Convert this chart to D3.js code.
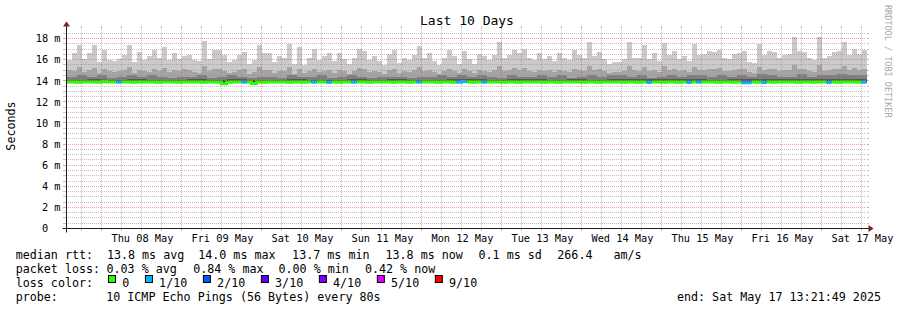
<!DOCTYPE html>
<html>
<head>
<meta charset="utf-8">
<script src="https://cdn.jsdelivr.net/npm/d3@7"></script>
<style>
  body { margin: 0; background: #fff; }
  text { font-family: "DejaVu Sans Mono", monospace; white-space: pre; }
</style>
</head>
<body>
<div id="chart-area"></div>
<script>
// ---- values ----
const endTime = Date.UTC(2025, 4, 17, 13, 21, 49)
const spanDays = 10

const yTickValues = [0, 2, 4, 6, 8, 10, 12, 14, 16, 18]
const yTickLabels = ["0", "2 m", "4 m", "6 m", "8 m", "10 m", "12 m", "14 m", "16 m", "18 m"]
const dayLabels = ["Thu 08 May", "Fri 09 May", "Sat 10 May", "Sun 11 May", "Mon 12 May",
                   "Tue 13 May", "Wed 14 May", "Thu 15 May", "Fri 16 May", "Sat 17 May"]

// smoke: highest ping (ms), 160 samples over the 10 days
const pingTop = [
  16.0,16.6,17.4,16.1,16.6,17.4,15.8,16.9,16.0,15.9, 16.1,16.4,17.4,15.8,16.7,16.0,16.3,16.9,16.2,17.2,
  16.0,16.6,16.1,16.3,16.4,16.0,15.9,17.8,16.1,16.9, 16.9,16.4,15.8,16.0,16.4,16.7,15.6,16.0,17.4,16.6,
  16.6,15.8,16.3,16.2,17.5,15.6,17.2,15.5,16.2,17.0, 16.0,16.3,16.6,15.9,16.6,16.1,15.6,16.2,17.0,16.8,
  16.0,16.3,15.9,15.5,16.5,16.9,15.7,16.2,16.0,16.4, 17.3,16.2,16.6,15.9,15.5,16.2,16.9,16.3,15.6,16.8,
  16.1,15.6,16.5,16.3,16.0,16.4,17.7,16.2,16.4,16.9, 16.6,17.0,16.2,16.0,16.6,16.1,16.3,15.9,16.6,16.2,
  16.0,16.9,16.4,16.2,17.7,16.3,16.7,16.1,15.6,15.8, 15.8,16.1,17.7,16.2,16.2,17.4,16.1,16.6,15.9,17.6,
  16.4,16.8,16.1,16.3,15.9,17.5,16.4,16.5,16.8,16.7, 16.9,16.2,16.1,16.5,16.6,16.8,15.8,15.7,17.5,16.4,
  16.8,16.7,16.2,16.4,16.5,18.1,16.8,16.7,16.2,16.0, 18.1,16.2,16.3,16.7,16.8,17.7,16.4,17.0,16.5,16.9
]
// second highest ping, 160 samples
const ping9 = [
  15.0,14.9,15.3,14.8,15.0,15.2,14.7,15.1,14.9,14.8, 14.9,15.0,15.3,14.7,15.0,14.9,14.8,15.1,14.9,15.2,
  14.8,15.0,14.9,15.1,15.0,14.8,14.7,15.4,14.9,15.1, 15.1,14.9,14.7,14.8,15.0,15.1,14.6,14.8,15.3,15.0,
  15.0,14.7,14.9,14.9,15.3,14.6,15.1,14.7,14.9,15.1, 14.8,14.9,15.0,14.7,15.0,14.9,14.6,14.9,15.2,15.1,
  14.8,14.9,14.8,14.6,15.0,15.1,14.7,14.9,14.8,15.0, 15.3,14.9,15.0,14.8,14.6,14.9,15.1,14.9,14.7,15.1,
  14.9,14.7,15.0,14.9,14.8,15.0,15.4,14.9,15.0,15.2, 15.0,15.2,14.9,14.8,15.0,14.9,15.0,14.8,15.0,14.9,
  14.8,15.1,15.0,14.9,15.4,15.0,15.1,14.9,14.7,14.8, 14.8,14.9,15.4,15.0,14.9,15.3,14.9,15.0,14.8,15.4,
  15.0,15.1,14.9,15.0,14.8,15.3,15.0,15.0,15.1,15.1, 15.2,14.9,14.9,15.0,15.1,15.1,14.8,14.7,15.3,15.0,
  15.1,15.1,14.9,15.0,15.0,15.5,15.1,15.1,14.9,14.8, 15.5,14.9,15.0,15.1,15.1,15.4,15.0,15.2,15.0,15.1
]
// third highest ping, 80 samples
const ping8 = [
  14.4,14.5,14.4,14.5,14.3,14.4,14.5,14.4,14.5,14.4, 14.3,14.4,14.4,14.5,14.3,14.4,14.5,14.4,14.3,14.4,
  14.4,14.3,14.5,14.4,14.4,14.5,14.3,14.4,14.5,14.4, 14.3,14.4,14.4,14.4,14.3,14.4,14.4,14.5,14.4,14.5,
  14.4,14.5,14.4,14.3,14.5,14.4,14.4,14.5,14.4,14.5, 14.3,14.4,14.5,14.4,14.5,14.5,14.4,14.5,14.3,14.4,
  14.5,14.4,14.5,14.5,14.4,14.5,14.4,14.5,14.4,14.6, 14.5,14.4,14.4,14.6,14.4,14.5,14.5,14.6,14.5,14.5
]
// fourth and fifth highest pings, 40 samples
const ping7 = [
  14.10,14.15,14.10,14.15,14.10,14.10,14.15,14.10,14.15,14.10, 14.10,14.15,14.10,14.10,14.15,14.10,14.15,14.10,14.10,14.15,
  14.15,14.10,14.15,14.15,14.10,14.20,14.10,14.15,14.20,14.15, 14.20,14.15,14.10,14.20,14.15,14.20,14.15,14.20,14.15,14.20
]
const ping6 = [
  13.99,14.00,13.98,14.01,13.99,13.98,14.00,13.99,14.02,13.98, 13.99,14.00,13.98,13.99,14.01,13.99,14.00,13.98,13.99,14.01,
  14.00,13.99,14.01,14.00,13.99,14.02,13.99,14.00,14.02,14.00, 14.01,14.00,13.99,14.02,14.00,14.01,14.00,14.02,14.00,14.01
]
// lowest ping, 40 samples
const pingLow = [
  13.76,13.77,13.76,13.75,13.77,13.76,13.76,13.77,13.75,13.76, 13.77,13.76,13.76,13.77,13.76,13.75,13.76,13.77,13.76,13.76,
  13.77,13.76,13.75,13.76,13.77,13.76,13.76,13.75,13.77,13.76, 13.76,13.77,13.76,13.76,13.75,13.77,13.76,13.76,13.77,13.76
]
// median rtt, 160 samples
const medianRtt = [
  13.87,13.87,13.86,13.88,13.87,13.87,13.86,13.95,13.88,13.87, 13.85,13.87,13.87,13.86,13.87,13.88,13.87,13.87,13.86,13.87,
  13.88,13.87,13.86,13.87,13.87,13.88,13.87,13.86,13.87,13.87, 13.86,13.72,13.86,13.87,13.87,13.85,13.87,13.75,13.87,13.86,
  13.87,13.87,13.88,13.87,13.86,13.87,13.87,13.86,13.87,13.85, 13.87,13.87,13.84,13.87,13.86,13.87,13.88,13.86,13.87,13.87,
  13.86,13.87,13.87,13.88,13.87,13.86,13.87,13.87,13.86,13.87, 13.85,13.87,13.88,13.87,13.86,13.87,13.87,13.86,13.85,13.94,
  13.87,13.86,13.87,13.85,13.87,13.87,13.88,13.86,13.87,13.87, 13.86,13.87,13.87,13.88,13.87,13.86,13.87,13.87,13.86,13.87,
  13.87,13.88,13.87,13.86,13.87,13.87,13.86,13.87,13.87,13.88, 13.87,13.86,13.87,13.87,13.86,13.87,13.84,13.87,13.87,13.86,
  13.87,13.87,13.86,13.87,13.84,13.87,13.85,13.87,13.88,13.87, 13.86,13.87,13.87,13.86,13.87,13.82,13.80,13.87,13.86,13.84,
  13.87,13.86,13.87,13.87,13.88,13.87,13.86,13.87,13.87,13.86, 13.87,13.87,13.84,13.87,13.86,13.87,13.87,13.88,13.86,13.85
]
// lost pings out of 10 for each median sample
const lostPings = [
  0,0,0,0,0,0,0,0,0,0, 1,0,0,0,0,0,0,0,0,0, 0,0,0,0,0,0,0,0,0,0, 0,0,0,0,0,1,0,0,0,0,
  0,0,0,0,0,0,0,0,0,1, 0,0,1,0,0,0,0,1,0,0, 0,0,0,0,0,0,0,0,0,0, 1,0,0,0,0,0,0,0,1,1,
  0,0,0,1,0,0,0,0,0,0, 0,0,0,0,0,0,0,0,0,0, 0,0,0,0,0,0,0,0,0,0, 0,0,0,0,0,0,1,0,0,0,
  0,0,0,0,1,0,1,0,0,0, 0,0,0,0,0,1,1,0,0,1, 0,0,0,0,0,0,0,0,0,0, 0,0,1,0,0,0,0,0,0,1
]

const lossLevels = [0, 1, 2, 3, 4, 5, 9]
const lossLabels = ["0", "1/10", "2/10", "3/10", "4/10", "5/10", "9/10"]
const lossColors = ["#26ff00", "#00b8ff", "#0059ff", "#5e00ff", "#7e00ff", "#dd00ff", "#ff0000"]
const smokeGreys = ["#cacaca", "#a4a4a4", "#7e7e7e", "#585858", "#323232"]

const rttLegend = ["median rtt:", "13.8 ms avg", "14.0 ms max", "13.7 ms min", "13.8 ms now", "0.1 ms sd", "266.4", "am/s"]
const lossLegend = ["packet loss:", "0.03 % avg", "0.84 % max", "0.00 % min", "0.42 % now"]
const probeText = "10 ICMP Echo Pings (56 Bytes) every 80s"
const endText = "end: Sat May 17 13:21:49 2025"

// ---- layout ----
const W = 897, H = 310
const PLOT = { LEFT: 66.5, RIGHT: 866.5, TOP: 28.5, BOTTOM: 228.5 }
const CW = 7.02 // legend char width
const startTime = endTime - spanDays * 86400000

const svg = d3.select("#chart-area").append("svg")
    .attr("width", W)
    .attr("height", H)

svg.append("rect").attr("width", W).attr("height", H).attr("fill", "#fff")

const x = d3.scaleUtc()
    .domain([new Date(startTime), new Date(endTime)])
    .range([PLOT.LEFT, PLOT.RIGHT])

const y = d3.scaleLinear()
    .domain([0, 18.95])
    .range([PLOT.BOTTOM, PLOT.TOP])

// spread a sample array evenly over the time span (step series)
function steps(values) {
    const n = values.length, dt = (endTime - startTime) / n
    return d3.range(n + 1).map(k => ({ t: new Date(startTime + k * dt), v: values[Math.min(k, n - 1)] }))
}
function valueAt(values, t) {
    const n = values.length
    const k = Math.floor((t - startTime) / (endTime - startTime) * n)
    return values[Math.max(0, Math.min(n - 1, k))]
}

// smoke layers, widest (lightest) first
const smokeTops = [pingTop, ping9, ping8, ping7, ping6]
const smoke = svg.append("g").attr("shape-rendering", "crispEdges")
smokeTops.forEach((tops, i) => {
    const area = d3.area()
        .curve(d3.curveStepAfter)
        .x(d => x(d.t))
        .y0(d => y(valueAt(pingLow, d.t)))
        .y1(d => y(d.v))
    smoke.append("path")
        .datum(steps(tops))
        .attr("d", area)
        .attr("fill", smokeGreys[i])
})

// median line coloured by loss
const n = medianRtt.length, dt = (endTime - startTime) / n
const medPts = []
medianRtt.forEach((v, i) => {
    medPts.push({ t: new Date(startTime + i * dt), v, loss: lostPings[i] })
    medPts.push({ t: new Date(startTime + (i + 1) * dt), v, loss: lostPings[i] })
})
lossLevels.forEach((lvl, i) => {
    const line = d3.line()
        .defined(d => d.loss === lvl)
        .x(d => x(d.t))
        .y(d => y(d.v))
    svg.append("path")
        .datum(medPts)
        .attr("d", line)
        .attr("fill", "none")
        .attr("stroke", lossColors[i])
        .attr("stroke-width", 3)
        .attr("stroke-linecap", "butt")
})

// grid (drawn over the data, like rrdtool) as pixel-dot patterns
const defs = svg.append("defs")
const gridStyles = {
    minor: { col: "#8f8f8f", op: 0.55 },
    major: { col: "#de4f4f", op: 0.55 }
}
Object.entries(gridStyles).forEach(([name, s]) => {
    const ph = defs.append("pattern").attr("id", `dotH-${name}`)
        .attr("patternUnits", "userSpaceOnUse").attr("width", 2).attr("height", 1)
    ph.append("rect").attr("width", 1).attr("height", 1).attr("fill", s.col).attr("fill-opacity", s.op)
    const pv = defs.append("pattern").attr("id", `dotV-${name}`)
        .attr("patternUnits", "userSpaceOnUse").attr("width", 1).attr("height", 2)
    pv.append("rect").attr("width", 1).attr("height", 1).attr("fill", s.col).attr("fill-opacity", s.op)
})

const grid = svg.append("g").attr("shape-rendering", "crispEdges")
const gTop = Math.floor(PLOT.TOP), gBot = Math.floor(PLOT.BOTTOM)
const gLeft = Math.floor(PLOT.LEFT) + 1, gRight = Math.floor(PLOT.RIGHT)
const sixHours = d3.utcHour.every(6).range(new Date(startTime), new Date(endTime))
sixHours.forEach(t => {
    const kind = t.getUTCHours() === 0 ? "major" : "minor"
    const s = gridStyles[kind]
    const gx = Math.floor(x(t))
    grid.append("rect")
        .attr("x", gx).attr("y", gTop).attr("width", 1).attr("height", gBot - gTop)
        .attr("fill", `url(#dotV-${kind})`)
    grid.append("rect")
        .attr("x", gx).attr("y", gTop - 2).attr("width", 1).attr("height", 2)
        .attr("fill", s.col).attr("fill-opacity", s.op)
    grid.append("rect")
        .attr("x", gx).attr("y", gBot + 1).attr("width", 1).attr("height", 2)
        .attr("fill", s.col).attr("fill-opacity", s.op)
})
d3.range(1, 38).map(k => k / 2).forEach(v => {
    const kind = v % 2 === 0 ? "major" : "minor"
    const s = gridStyles[kind]
    const gy = Math.floor(y(v))
    grid.append("rect")
        .attr("x", gLeft).attr("y", gy).attr("width", gRight - gLeft).attr("height", 1)
        .attr("fill", `url(#dotH-${kind})`)
    grid.append("rect")
        .attr("x", gLeft - 4).attr("y", gy).attr("width", 3).attr("height", 1)
        .attr("fill", s.col).attr("fill-opacity", s.op)
    grid.append("rect")
        .attr("x", gRight + 1).attr("y", gy).attr("width", 2).attr("height", 1)
        .attr("fill", s.col).attr("fill-opacity", s.op)
})

// axes lines + arrows
const axisCol = "#1f1f1f", arrowCol = "#7f1f1f"
svg.append("line")
    .attr("x1", PLOT.LEFT - 4).attr("x2", PLOT.RIGHT + 4)
    .attr("y1", PLOT.BOTTOM).attr("y2", PLOT.BOTTOM)
    .attr("stroke", axisCol)
svg.append("line")
    .attr("x1", PLOT.LEFT).attr("x2", PLOT.LEFT)
    .attr("y1", PLOT.BOTTOM + 4).attr("y2", PLOT.TOP - 4)
    .attr("stroke", axisCol)
svg.append("path")
    .attr("d", `M${PLOT.RIGHT + 2},${PLOT.BOTTOM - 3.5}L${PLOT.RIGHT + 2},${PLOT.BOTTOM + 3.5}L${PLOT.RIGHT + 7},${PLOT.BOTTOM}Z`)
    .attr("fill", arrowCol)
svg.append("path")
    .attr("d", `M${PLOT.LEFT - 3.5},${PLOT.TOP - 2}L${PLOT.LEFT + 3.5},${PLOT.TOP - 2}L${PLOT.LEFT},${PLOT.TOP - 7}Z`)
    .attr("fill", arrowCol)

// axis labels through d3 axes
const noons = d3.utcDay.range(new Date(startTime), new Date(endTime))
    .map(d => d3.utcHour.offset(d, 12))
    .filter(d => d <= endTime)
const xAxis = svg.append("g")
    .attr("transform", `translate(0, ${PLOT.BOTTOM})`)
    .call(d3.axisBottom(x).tickValues(noons).tickSize(0).tickFormat((d, i) => dayLabels[i]))
xAxis.select(".domain").remove()
xAxis.selectAll("text")
    .attr("y", 13).attr("dy", 0)
    .attr("font-size", "10.3px").attr("fill", "#000")
    .attr("font-family", "DejaVu Sans Mono")

const yAxis = svg.append("g")
    .attr("transform", `translate(${PLOT.LEFT}, 0)`)
    .call(d3.axisLeft(y).tickValues(yTickValues).tickSize(0).tickFormat((d, i) => yTickLabels[i]))
yAxis.select(".domain").remove()
yAxis.selectAll("text")
    .attr("x", d => d === 0 ? -6 - 2 * 6.2 : -6)
    .attr("dy", "0.32em")
    .attr("font-size", "10.3px").attr("fill", "#000")
    .attr("font-family", "DejaVu Sans Mono")

// title, y label, watermark
svg.append("text")
    .attr("x", (PLOT.LEFT + PLOT.RIGHT) / 2 + 0.5).attr("y", 25)
    .attr("text-anchor", "middle").attr("font-size", "13px")
    .text("Last 10 Days")
svg.append("text")
    .attr("transform", "translate(14.5, 126) rotate(-90)")
    .attr("text-anchor", "middle").attr("font-size", "11.7px")
    .text("Seconds")
svg.append("text")
    .attr("transform", "translate(884.5, 5) rotate(90)")
    .attr("font-size", "8.5px").attr("fill", "#a8a8a8")
    .text("RRDTOOL / TOBI OETIKER")

// legend
const legend = svg.append("g").attr("font-size", "11.7px").attr("fill", "#000")
const rttX = [15.7, 106.9, 198.2, 292.1, 385.5, 478.5, 557.3, 613.5]
rttLegend.forEach((s, i) => legend.append("text").attr("x", rttX[i]).attr("y", 258.5).text(s))
const lossX = [15.7, 106.5, 193.2, 278.5, 364.9]
lossLegend.forEach((s, i) => legend.append("text").attr("x", lossX[i]).attr("y", 272.5).text(s))

legend.append("text").attr("x", 15.7).attr("y", 286.5).text("loss color:")
let cursor = 108.5
lossLabels.forEach((lab, i) => {
    legend.append("rect")
        .attr("x", cursor).attr("y", 275.5).attr("width", 7).attr("height", 7)
        .attr("fill", lossColors[i]).attr("stroke", "#000").attr("stroke-width", 1)
    legend.append("text").attr("x", cursor + 13.7).attr("y", 286.5).text(lab)
    cursor = cursor + 13.7 + lab.length * CW + 16.2
})

legend.append("text").attr("x", 15.7).attr("y", 300.5).text("probe:")
legend.append("text").attr("x", 106.2).attr("y", 300.5).text(probeText)
legend.append("text").attr("x", 881).attr("y", 300.5).attr("text-anchor", "end").text(endText)
</script>
</body>
</html>
